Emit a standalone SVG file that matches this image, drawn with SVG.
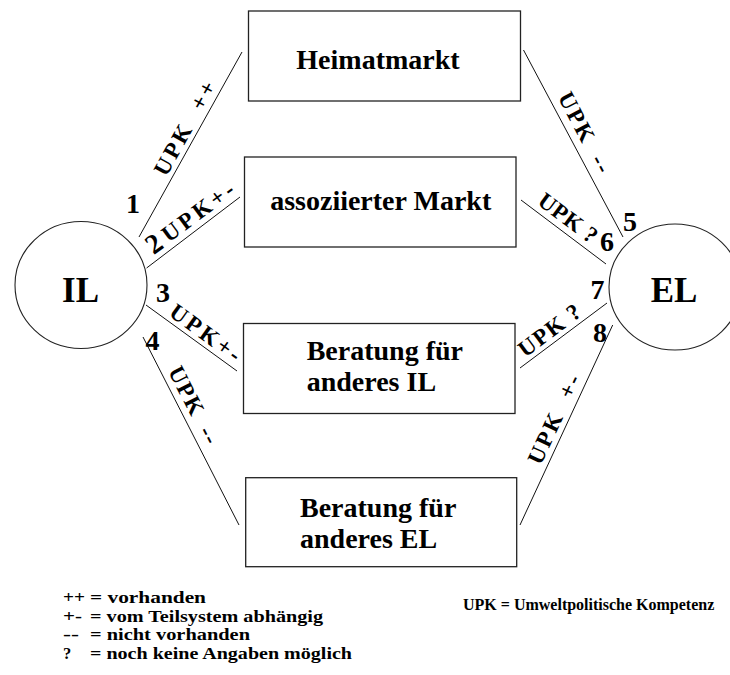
<svg xmlns="http://www.w3.org/2000/svg" width="730" height="675" viewBox="0 0 730 675">
<style>
  .box { fill: #ffffff; stroke: #222222; stroke-width: 1.3; }
  .circ { fill: #ffffff; stroke: #222222; stroke-width: 1.1; }
  .con { stroke: #111111; stroke-width: 1; fill: none; }
  text { font-family: "Liberation Serif", "Times New Roman", serif; font-weight: bold; fill: #000000; }
  .bt { font-size: 28px; }
  .big { font-size: 35px; }
  .num { font-size: 28px; text-anchor: middle; }
  .lbl { font-size: 23px; text-anchor: middle; }
  .leg { font-size: 16.5px; }
  .leg2 { font-size: 16px; }
</style>
<rect width="730" height="675" fill="#ffffff"/>

<g id="connectors">
  <line class="con" x1="139" y1="237" x2="242" y2="52"/>
  <line class="con" x1="146.6" y1="268" x2="240" y2="197"/>
  <line class="con" x1="146" y1="305" x2="237" y2="371"/>
  <line class="con" x1="143" y1="337" x2="239" y2="525"/>
  <line class="con" x1="523.5" y1="50" x2="623" y2="237"/>
  <line class="con" x1="521" y1="200" x2="606" y2="264"/>
  <line class="con" x1="520" y1="368" x2="607" y2="303"/>
  <line class="con" x1="612.7" y1="325" x2="520" y2="525"/>

  <text class="lbl" transform="translate(191.6,132) rotate(-60.9)" textLength="104" lengthAdjust="spacing" xml:space="preserve">UPK  ++</text>
  <text class="num" transform="translate(159.5,251) rotate(-36.5)">2</text>
  <text class="lbl" transform="translate(202.5,218) rotate(-36.5)" textLength="84" lengthAdjust="spacing">UPK+-</text>
  <text class="lbl" transform="translate(201,339) rotate(35.9)" textLength="82" lengthAdjust="spacing">UPK+-</text>
  <text class="lbl" transform="translate(187,408.5) rotate(62.9)" textLength="84" lengthAdjust="spacing" xml:space="preserve">UPK  --</text>
  <text class="lbl" transform="translate(578,136) rotate(62.1)" textLength="88" lengthAdjust="spacing" xml:space="preserve">UPK  --</text>
  <text class="lbl" transform="translate(563.5,224) rotate(36.7)" textLength="68" lengthAdjust="spacing">UPK ?</text>
  <text class="lbl" transform="translate(554,336.4) rotate(-36.8)" textLength="72" lengthAdjust="spacing">UPK ?</text>
  <text class="lbl" transform="translate(561,422.5) rotate(-65.1)" textLength="96" lengthAdjust="spacing" xml:space="preserve">UPK  +-</text>

  <text class="num" x="133" y="213">1</text>
  <text class="num" x="163" y="302">3</text>
  <text class="num" x="152.5" y="350">4</text>
  <text class="num" x="630" y="231">5</text>
  <text class="num" x="607" y="251">6</text>
  <text class="num" x="597.5" y="299">7</text>
  <text class="num" x="600" y="342">8</text>
</g>

<g id="IL">
  <ellipse class="circ" cx="81" cy="285" rx="66" ry="63.5"/>
  <text class="big" x="80.5" y="301.5" text-anchor="middle">IL</text>
</g>

<g id="EL">
  <ellipse class="circ" cx="675" cy="287" rx="66" ry="63"/>
  <text class="big" x="674" y="301.5" text-anchor="middle">EL</text>
</g>

<g id="heimatmarkt">
  <rect class="box" x="248.5" y="11" width="272" height="90"/>
  <text class="bt" x="378" y="69" text-anchor="middle">Heimatmarkt</text>
</g>

<g id="assoziierter-markt">
  <rect class="box" x="244.5" y="157" width="271.5" height="90"/>
  <text class="bt" x="380.7" y="210" text-anchor="middle">assoziierter Markt</text>
</g>

<g id="beratung-il">
  <rect class="box" x="243.5" y="323.5" width="271.5" height="90"/>
  <text class="bt" x="306.7" y="360">Beratung für</text>
  <text class="bt" x="306.7" y="390.7">anderes IL</text>
</g>

<g id="beratung-el">
  <rect class="box" x="245.7" y="477.7" width="271" height="89"/>
  <text class="bt" x="300" y="516.7">Beratung für</text>
  <text class="bt" x="300" y="548.3">anderes EL</text>
</g>

<g id="legend">
  <text class="leg" y="603"><tspan x="63" textLength="22" lengthAdjust="spacingAndGlyphs">++</tspan><tspan x="90" textLength="116" lengthAdjust="spacingAndGlyphs">= vorhanden</tspan></text>
  <text class="leg" y="621.5"><tspan x="63" textLength="19" lengthAdjust="spacingAndGlyphs">+-</tspan><tspan x="90" textLength="233" lengthAdjust="spacingAndGlyphs">= vom Teilsystem abhängig</tspan></text>
  <text class="leg" y="640"><tspan x="63" textLength="16" lengthAdjust="spacingAndGlyphs">--</tspan><tspan x="90" textLength="160" lengthAdjust="spacingAndGlyphs">= nicht vorhanden</tspan></text>
  <text class="leg" y="658.5"><tspan x="63">?</tspan><tspan x="90" textLength="262" lengthAdjust="spacingAndGlyphs">= noch keine Angaben möglich</tspan></text>
  <text class="leg2" x="463" y="610">UPK = Umweltpolitische Kompetenz</text>
</g>
</svg>
